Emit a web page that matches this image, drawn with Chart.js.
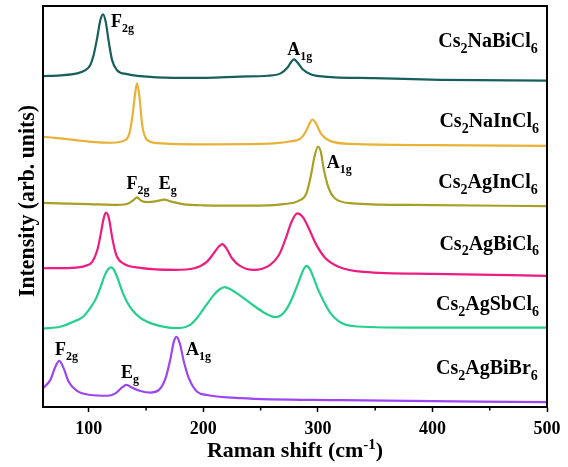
<!DOCTYPE html>
<html><head><meta charset="utf-8">
<script src="https://cdn.jsdelivr.net/npm/chart.js@4.4.0/dist/chart.umd.min.js"></script>
<style>html,body{margin:0;padding:0;background:#fff;}#wrap{width:568px;height:467px;}</style>
</head><body><div id="wrap"><canvas id="c" width="568" height="467"></canvas></div>
<script>
// ---- tick labels ----
const xMajorTicks = [100, 200, 300, 400, 500];
const xMinorTicks = [150, 250, 350, 450];

// ---- series (Raman shift in cm-1, intensity in stacked arbitrary units) ----
const naBiClShift = [60,75,89.7,97,101.3,104.2,107.2,110.1,112.4,114.7,117.4,120.3,124.6,133.4,145,174,203,232,256,267.5,273.3,276.8,279.1,282,286.4,293.7,305.4,349,407,500];
const naBiClInt   = [82.5,82.7,83.2,84.0,85.3,87.8,91.9,96.5,97.9,96.1,91.1,86.5,84.0,83.0,82.5,82.1,82.1,82.4,82.6,83.2,84.6,86.1,86.7,86.0,84.3,83.0,82.4,82.0,81.6,81.4];

const naInClShift = [60,75,100,120,132,135.5,138.2,140.3,142.1,144.2,146.6,150.9,160,200,250,275,285,289.5,292.4,295.2,298,302.4,311,330,400,500];
const naInClInt   = [67.4,67.0,66.2,65.9,66.6,68.3,72.8,77.8,80.7,77.4,70.3,66.6,65.8,65.5,65.6,66.2,67.0,68.7,70.5,71.7,70.9,68.3,66.3,65.6,65.3,65.1];

const agInClShift = [60,100,125,135,139,142,146,152,160,166,172,182,200,240,270,283,290,294,297,300,302.5,305,309,315,330,380,500];
const agInClInt   = [50.9,50.6,50.4,50.8,51.6,52.3,51.4,51.1,51.4,51.7,51.2,50.6,50.3,50.2,50.6,51.4,53.3,57.9,62.4,64.9,63.7,59.5,54.9,52.0,50.8,50.4,50.1];

const agBiClShift = [60,85,97,103,107.5,110.5,113,115,117.5,120.5,124,130,145,175,192,203,209,213.5,216.5,220,225,232,244,258,266,272,277,282,287,292,298,306,318,340,400,500];
const agBiClInt   = [34.6,34.7,35.2,36.2,39.2,43.3,47.1,48.5,47.1,42.1,37.9,35.8,34.7,34.2,34.6,36.2,38.3,40.0,40.6,39.6,37.1,35.2,34.2,35.4,37.9,42.1,46.2,48.3,47.3,44.6,40.8,37.3,35.0,33.7,33.2,32.7];

const agSbClShift = [60,75,87,95,101,106,110,114,117,119.5,122,125,130,136,145,155,170,180,188,195,202,209,214,218.5,224,230,241,252,258,263,268,273,277,281,285,288,290,293,296,300,305,311,318,330,380,500];
const agSbClInt   = [19.6,20.0,21.3,22.5,24.6,26.9,29.7,32.9,34.4,34.8,34.2,32.2,28.2,24.9,22.2,20.8,19.8,19.7,20.4,22.4,25.2,27.9,29.3,29.9,29.3,28.2,25.9,23.7,22.8,22.4,22.9,24.6,26.8,29.6,32.6,34.6,35.2,34.4,32.4,29.4,26.4,23.4,21.4,20.2,19.8,19.8];

const agBiBrShift = [60,66.3,70.7,74.2,78,82.4,89.7,101.3,116,123.2,129,132.8,137.8,145,153.8,161,167,171.3,174.2,176.5,179.4,183,187.3,194.6,203.4,232.5,320,500];
const agBiBrInt   = [4.7,6.7,10.0,11.5,9.7,6.3,4.0,3.0,2.8,3.4,4.9,5.5,4.8,4.0,3.6,4.2,7.2,12.1,16.3,17.5,15.9,11.3,7.2,3.8,3.0,2.2,1.7,1.2];

const seriesColors = ['#175f5b', '#e9b136', '#a8a024', '#ec1c80', '#25cf8c', '#9c46f3'];

// ---- text labels ----
const compoundNames  = ['Cs2NaBiCl6', 'Cs2NaInCl6', 'Cs2AgInCl6', 'Cs2AgBiCl6', 'Cs2AgSbCl6', 'Cs2AgBiBr6'];
const compoundShift  = [492, 493, 492, 493, 493, 492];
const compoundLevel  = [89.8, 69.8, 54.6, 39.2, 24.2, 8.2];

const peakMain  = ['F', 'A', 'F', 'E', 'A', 'F', 'E', 'A'];
const peakSub   = ['2g', '1g', '2g', 'g', '1g', '2g', 'g', '1g'];
const peakShift = [119.4, 273.3, 132.8, 161, 307.7, 70.5, 128.1, 184.8];
const peakLevel = [94.8, 87.8, 54.4, 54.4, 59.5, 13.0, 7.2, 13.0];

const xTitleParts = [['Raman shift (cm', 'n'], ['-1', 'sup'], [')', 'n']];
const yTitle = 'Intensity (arb. units)';

// ---------------------------------------------------------
const FONT = '"Liberation Serif", "Times New Roman", serif';
function toXY(xs, ys) { return xs.map((x, i) => ({ x: x, y: ys[i] })); }

const allShifts = [naBiClShift, naInClShift, agInClShift, agBiClShift, agSbClShift, agBiBrShift];
const allInts   = [naBiClInt, naInClInt, agInClInt, agBiClInt, agSbClInt, agBiBrInt];

function drawParts(ctx, parts, x, y, size, align) {
  const widths = parts.map(p => {
    const s = p[1] === 'n' ? size : Math.round(size * 0.68);
    ctx.font = 'bold ' + s + 'px ' + FONT;
    return ctx.measureText(p[0]).width;
  });
  const total = widths.reduce((a, b) => a + b, 0);
  let cx = align === 'right' ? x - total : (align === 'center' ? x - total / 2 : x);
  parts.forEach((p, i) => {
    const s = p[1] === 'n' ? size : Math.round(size * 0.68);
    ctx.font = 'bold ' + s + 'px ' + FONT;
    let dy = 0;
    if (p[1] === 'sub') dy = size * 0.28;
    if (p[1] === 'sup') dy = -size * 0.38;
    ctx.fillText(p[0], cx, y + dy);
    cx += widths[i];
  });
}
function formulaParts(str) {
  return str.split(/(\d+)/).filter(s => s.length).map(s => [s, /^\d+$/.test(s) ? 'sub' : 'n']);
}

const decorPlugin = {
  id: 'decor',
  afterDraw(chart) {
    const ctx = chart.ctx, a = chart.chartArea;
    const xs = chart.scales.x, ys = chart.scales.y;
    ctx.save();
    // frame
    ctx.strokeStyle = '#000'; ctx.lineWidth = 2;
    ctx.strokeRect(a.left, a.top, a.right - a.left, a.bottom - a.top);
    // minor ticks
    ctx.lineWidth = 1.5;
    xMinorTicks.forEach(v => {
      const px = xs.getPixelForValue(v);
      ctx.beginPath(); ctx.moveTo(px, a.bottom); ctx.lineTo(px, a.bottom + 3.5); ctx.stroke();
    });
    ctx.fillStyle = '#000';
    ctx.textBaseline = 'alphabetic';
    ctx.textAlign = 'left';
    // compound labels
    compoundNames.forEach((n, i) => {
      drawParts(ctx, formulaParts(n), xs.getPixelForValue(compoundShift[i]), ys.getPixelForValue(compoundLevel[i]), 20, 'right');
    });
    // peak labels
    peakMain.forEach((m, i) => {
      drawParts(ctx, [[m, 'n'], [peakSub[i], 'sub']], xs.getPixelForValue(peakShift[i]), ys.getPixelForValue(peakLevel[i]), 18, 'left');
    });
    // x title
    drawParts(ctx, xTitleParts, (a.left + a.right) / 2, 457, 22, 'center');
    // y title (slightly condensed like the reference)
    ctx.font = 'bold 23px ' + FONT;
    const w = ctx.measureText(yTitle).width;
    ctx.translate(33.5, 201);
    ctx.rotate(-Math.PI / 2);
    ctx.scale(192 / w, 1);
    ctx.textAlign = 'center';
    ctx.fillText(yTitle, 0, 0);
    ctx.restore();
  }
};

new Chart(document.getElementById('c'), {
  type: 'line',
  data: {
    datasets: allShifts.map((xs, i) => ({
      label: compoundNames[i],
      data: toXY(xs, allInts[i]),
      borderColor: seriesColors[i],
      borderWidth: 2.2,
      pointRadius: 0,
      fill: false,
      cubicInterpolationMode: 'monotone'
    }))
  },
  options: {
    responsive: false,
    animation: false,
    devicePixelRatio: 1,
    layout: { padding: { top: 6, right: 21, left: 0, bottom: 0 } },
    plugins: { legend: { display: false }, tooltip: { enabled: false } },
    scales: {
      x: {
        type: 'linear', min: 60, max: 500,
        afterBuildTicks: s => { s.ticks = xMajorTicks.map(v => ({ value: v })); },
        afterFit: s => { s.height = 60; },
        grid: { drawOnChartArea: false, tickLength: 5, tickWidth: 1.5, tickColor: '#000' },
        border: { display: true, color: '#000', width: 2 },
        ticks: { color: '#000', font: { family: FONT, size: 18, weight: 'bold' }, padding: 7, maxRotation: 0 }
      },
      y: {
        type: 'linear', min: 0, max: 100,
        afterFit: s => { s.width = 43; },
        grid: { display: false },
        border: { display: true, color: '#000', width: 2 },
        ticks: { display: false }
      }
    }
  },
  plugins: [decorPlugin]
});
</script>
</body></html>
